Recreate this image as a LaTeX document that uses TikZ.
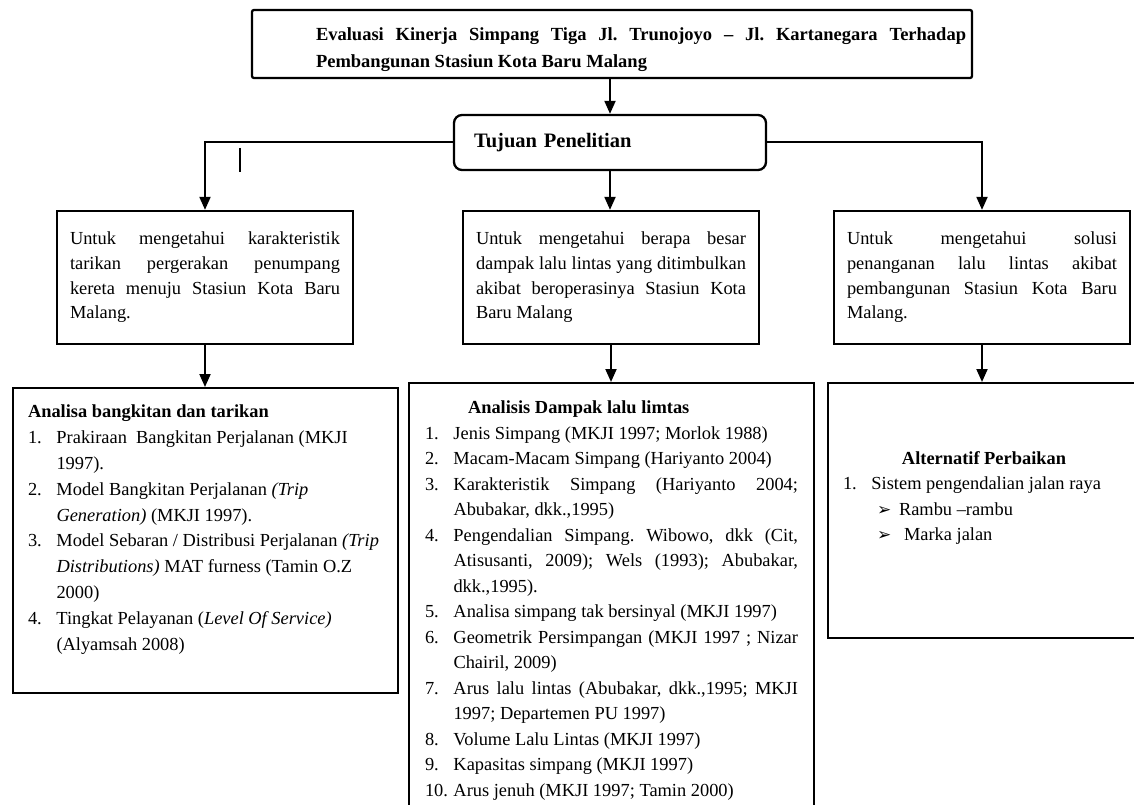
\documentclass[tikz,border=0pt]{standalone}
\usepackage{fontspec}
\setmainfont{Liberation Serif}
\newfontfamily\dingfont{DejaVu Sans}
\usepackage{tikz}
\usetikzlibrary{arrows.meta}
\tolerance=10000
\frenchspacing
\newcommand{\boxwidth}{2.3pt}
\newcommand{\linkwidth}{2pt}
\newcommand{\goalfont}{\fontsize{18.4}{24.7}\selectfont}
\newcommand{\listfont}{\fontsize{18.4}{25.5}\selectfont}
\newlength{\numindent}
\setlength{\numindent}{28.5pt}
\newcommand{\numitem}[2]{\par\noindent\hangindent=\numindent\hangafter=1\makebox[\numindent][l]{#1}#2}
\newcommand{\arrowitem}[2]{\par\noindent\hspace*{34pt}\makebox[#1][l]{\dingfont\fontsize{17}{17}\selectfont ➢}#2}
\tikzstyle{titlebox}=[draw, line width=\boxwidth, rounded corners=2pt, minimum width=720pt, minimum height=68pt,
                      text width=708pt, inner xsep=6pt, align=justify, font=\bfseries\fontsize{18.5}{27}\selectfont]
\tikzstyle{aimbox}=[draw, line width=\boxwidth, rounded corners=8pt, minimum width=312pt, minimum height=55pt,
                    text width=272pt, inner xsep=20pt, align=left, font=\bfseries\fontsize{20.5}{24}\selectfont]
\tikzstyle{goalbox}=[draw, line width=\boxwidth, minimum width=296pt, minimum height=133pt,
                     text width=270pt, inner xsep=13pt, align=justify, font=\goalfont]
\tikzstyle{listbox}=[draw, line width=\boxwidth, inner ysep=0pt, anchor=north]
\tikzstyle{arr}=[-{Triangle[length=13pt,width=11pt]}, line width=\linkwidth]

\begin{document}
\begin{tikzpicture}[x=1pt, y=-1pt]
    \useasboundingbox (0,0) rectangle (1134,805);
    \clip (0,0) rectangle (1134,805);
    % title and aim
    \node[titlebox] (title) at (612,44) {\hspace*{58pt}\rule{0pt}{24pt}Evaluasi Kinerja Simpang Tiga Jl. Trunojoyo -- Jl. Kartanegara Terhadap\linebreak
        \hspace*{58pt}Pembangunan Stasiun Kota Baru Malang};
    \node[aimbox] (tujuan) at (610,142.5) {Tujuan Penelitian};
    % the three goals
    \node[goalbox] (g1) at (205,277.5) {Untuk mengetahui karakteristik\linebreak
        tarikan pergerakan penumpang\linebreak kereta menuju Stasiun Kota Baru\linebreak Malang.};
    \node[goalbox] (g2) at (611,277.5) {Untuk mengetahui berapa besar\linebreak
        dampak lalu lintas yang ditimbulkan\linebreak akibat beroperasinya Stasiun Kota\linebreak Baru Malang};
    \node[goalbox] (g3) at (982,277.5) {Untuk mengetahui solusi\linebreak
        penanganan lalu lintas akibat\linebreak pembangunan Stasiun Kota Baru\linebreak Malang.};
    % the three lists
    \node[listbox, inner xsep=15pt] (b1) at (205.5,387) {\parbox[c][305pt][t]{355pt}{\fontsize{18.4}{25.8}\selectfont
        \vspace*{17pt}\textbf{Analisa bangkitan dan tarikan}
        \numitem{1.}{Prakiraan\ \ Bangkitan Perjalanan (MKJI\newline 1997).}
        \numitem{2.}{Model Bangkitan Perjalanan \textit{(Trip\newline Generation)} (MKJI 1997).}
        \numitem{3.}{Model Sebaran / Distribusi Perjalanan \textit{(Trip\newline Distributions)} MAT furness (Tamin O.Z\newline 2000)}
        \numitem{4.}{Tingkat Pelayanan (\textit{Level Of Service)}\newline (Alyamsah 2008)}}};
    \node[listbox, inner xsep=16pt] (b2) at (611.5,382) {\parbox[c][460pt][t]{373pt}{\listfont
        \vspace*{18pt}\hspace*{43pt}\textbf{Analisis Dampak lalu limtas}
        \numitem{1.}{Jenis Simpang (MKJI 1997; Morlok 1988)}
        \numitem{2.}{Macam-Macam Simpang (Hariyanto 2004)}
        \numitem{3.}{Karakteristik Simpang (Hariyanto 2004;\linebreak Abubakar, dkk.,1995)}
        \numitem{4.}{Pengendalian Simpang. Wibowo, dkk (Cit,\linebreak Atisusanti, 2009); Wels (1993); Abubakar,\linebreak dkk.,1995).}
        \numitem{5.}{Analisa simpang tak bersinyal (MKJI 1997)}
        \numitem{6.}{Geometrik Persimpangan (MKJI 1997 ; Nizar\linebreak Chairil, 2009)}
        \numitem{7.}{Arus lalu lintas (Abubakar, dkk.,1995; MKJI\linebreak 1997; Departemen PU 1997)}
        \numitem{8.}{Volume Lalu Lintas (MKJI 1997)}
        \numitem{9.}{Kapasitas simpang (MKJI 1997)}
        \numitem{10.}{Arus jenuh (MKJI 1997; Tamin 2000)}}};
    \node[listbox, inner xsep=15pt] (b3) at (984,382) {\parbox[c][255pt][t]{282pt}{\listfont
        \vspace*{68pt}{\centering\textbf{Alternatif Perbaikan}\par}
        \numitem{1.}{Sistem pengendalian jalan raya}
        \arrowitem{22pt}{Rambu --rambu}
        \arrowitem{27pt}{Marka jalan}}};
    % connectors
    \draw[arr] (title.south -| tujuan) -- (tujuan);
    \draw[arr] (tujuan.west) -| (g1.north);
    \draw[arr] (tujuan.east) -| (g3.north);
    \draw[arr] (tujuan.south) -- (tujuan.south |- g2.north);
    \draw[arr] (g1.south) -- (g1.south |- b1.north);
    \draw[arr] (g2.south) -- (g2.south |- b2.north);
    \draw[arr] (g3.south) -- (g3.south |- b3.north);
    \draw[line width=1.5pt] (240,148) -- (240,172);
\end{tikzpicture}
\end{document}
